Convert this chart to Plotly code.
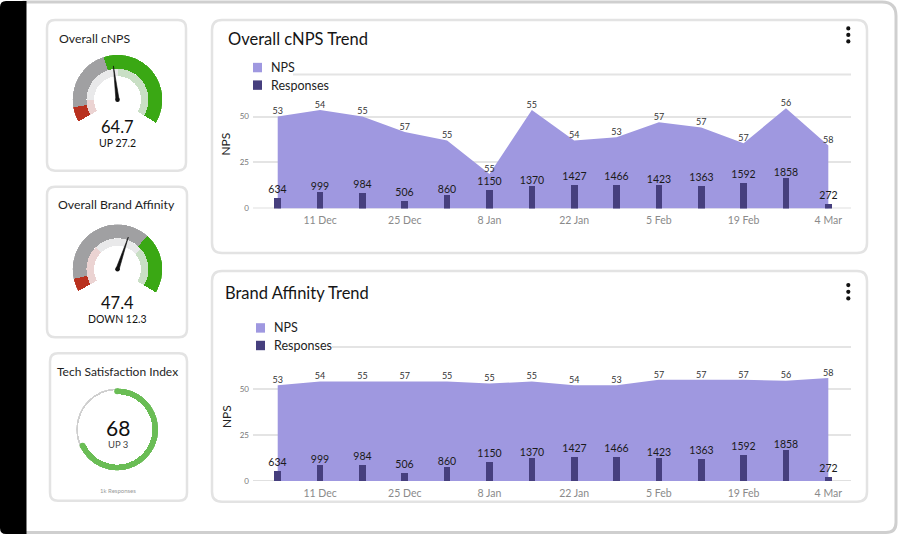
import plotly.graph_objects as go
import pandas as pd

W, H = 900, 534          # design coordinates (reference picture)
FIG_H = 541              # page height the photographer squeezes into 534
FONT = "Lato"

# ---------------- data ----------------
week_start = "2023-12-04"
n_weeks = 14
tick_dates = ["2023-12-11", "2023-12-25", "2024-01-08", "2024-01-22",
              "2024-02-05", "2024-02-19", "2024-03-04"]
tick_labels = ["11 Dec", "25 Dec", "8 Jan", "22 Jan", "5 Feb", "19 Feb", "4 Mar"]

cnps_area = [50, 53.6, 50, 41.6, 36.9, 18.7, 53.6, 36.9, 38.7, 46.9, 44, 35.4, 54.5, 34.2]
brand_area = [52, 54, 54, 54, 54, 53, 54, 52, 52, 55, 55, 55, 54.5, 56]
nps_labels = [53, 54, 55, 57, 55, 55, 55, 54, 53, 57, 57, 57, 56, 58]
responses = [634, 999, 984, 506, 860, 1150, 1370, 1427, 1466, 1423, 1363, 1592, 1858, 272]
y_ticks = [0, 25, 50]

gauge_titles = ["Overall cNPS", "Overall Brand Affinity"]
gauge_values = ["64.7", "47.4"]
gauge_changes = ["UP 27.2", "DOWN 12.3"]
gauge_needle = [46.7, 57.3]                      # position on a 0-100 arc
gauge_outer_bounds = [[0, 8, 42, 100], [0, 7, 67, 100]]
gauge_inner_bounds = [[0, 12, 50, 100], [0, 31, 70, 100]]

tsi_title = "Tech Satisfaction Index"
tsi_value = 68
tsi_change = "UP 3"
tsi_note = "1k Responses"

# ---------------- styles ----------------
AREA_C = "#9f98e0"
BAR_C = "#463f7e"
OUTER_C = ["#b9311f", "#a0a0a2", "#3aa814"]
INNER_C = ["#ebd3d2", "#e9e9ea", "#c9dfc5"]
DONUT_C = "#6abd55"

dates = pd.date_range(week_start, periods=n_weeks, freq="7D")


def X(px):
    return px / W


def Y(py):
    return 1 - py / H


def rpath(x0, y0, x1, y1, r):
    tl, tr, br, bl = r if isinstance(r, (list, tuple)) else (r, r, r, r)
    p = lambda x, y: f"{X(x):.5f},{Y(y):.5f}"
    s = f"M{p(x0 + tl, y0)} L{p(x1 - tr, y0)} Q{p(x1, y0)} {p(x1, y0 + tr)} "
    s += f"L{p(x1, y1 - br)} Q{p(x1, y1)} {p(x1 - br, y1)} "
    s += f"L{p(x0 + bl, y1)} Q{p(x0, y1)} {p(x0, y1 - bl)} "
    s += f"L{p(x0, y0 + tl)} Q{p(x0, y0)} {p(x0 + tl, y0)} Z"
    return s


shapes = []
annotations = []


def ann(text, x, y, size, color="#1e1e1e", xanchor="center", **kw):
    annotations.append(dict(text=text, x=X(x), y=Y(y), xref="paper", yref="paper",
                            showarrow=False, xanchor=xanchor, yanchor="middle",
                            font=dict(size=size, color=color, family=FONT), **kw))


# frame + black side bar
shapes.append(dict(type="path", path=rpath(24, 2, 896, 530.5, (0, 14, 10, 0)),
                   xref="paper", yref="paper", line=dict(color="#cfcfcf", width=3),
                   fillcolor="white", layer="below"))
shapes.append(dict(type="path", path=rpath(0, 1, 26.5, 532, (6, 0, 0, 6)),
                   xref="paper", yref="paper", line=dict(width=0),
                   fillcolor="black", layer="below"))

# cards
for (x0, y0, x1, y1, r) in [(47, 20, 186, 170, 8), (47, 186, 187, 336, 8),
                            (50, 352, 187, 499, 8), (212, 20, 867, 252, 10),
                            (212, 270, 867, 500, 10)]:
    shapes.append(dict(type="path", path=rpath(x0, y0, x1, y1, r), xref="paper",
                       yref="paper", line=dict(color="#e3e3e3", width=2.5),
                       fillcolor="white", layer="below"))

# three-dot menus
for cy in (28.3, 34.8, 41.3, 284, 290.7, 297.3):
    shapes.append(dict(type="circle", xref="paper", yref="paper",
                       x0=X(846.2), x1=X(850.4), y0=Y(cy + 2.1), y1=Y(cy - 2.1),
                       fillcolor="#111", line=dict(width=0), layer="above"))

fig = go.Figure()

# ---------------- trend charts ----------------
charts = [
    dict(title="Overall cNPS Trend", area=cnps_area, xa="x", ya="y", yb="y3",
         bottom=207.7, top=74.3, tx=226, ty=38.5, lx=253, ly=67.3),
    dict(title="Brand Affinity Trend", area=brand_area, xa="x2", ya="y2", yb="y4",
         bottom=479.3, top=345.7, tx=223, ty=292, lx=256, ly=326.7),
]

x_range = ["2023-11-29 22:00", "2024-03-07 18:00"]
layout_axes = {}
for i, c in enumerate(charts):
    fig.add_trace(go.Scatter(x=dates, y=c["area"], xaxis=c["xa"], yaxis=c["ya"],
                             fill="tozeroy", fillcolor=AREA_C, mode="lines+text",
                             line=dict(width=0, color=AREA_C),
                             text=[str(v) for v in nps_labels], textposition="top center",
                             textfont=dict(size=9, color="#333", family=FONT),
                             cliponaxis=False, showlegend=False, hoverinfo="skip"))
    fig.add_trace(go.Bar(x=dates, y=responses, xaxis=c["xa"], yaxis=c["yb"],
                         marker=dict(color=BAR_C, line=dict(width=0)), width=95e6,
                         text=[str(v) for v in responses], textposition="outside",
                         constraintext="none",
                         textfont=dict(size=10.5, color="#1a1a1a", family=FONT),
                         cliponaxis=False, showlegend=False, hoverinfo="skip"))
    sfx = "" if i == 0 else "2"
    bsfx = "3" if i == 0 else "4"
    layout_axes["xaxis" + sfx] = dict(
        domain=[X(253), X(851)], anchor=c["ya"], type="date", range=x_range,
        tickvals=tick_dates, ticktext=tick_labels, showgrid=False, zeroline=False,
        showline=False, ticks="", ticklabelstandoff=4,
        tickfont=dict(size=10.5, color="#8a8a8a", family=FONT))
    layout_axes["yaxis" + sfx] = dict(
        domain=[Y(c["bottom"]), Y(c["top"])], anchor=c["xa"], range=[0, 72.8],
        tickvals=y_ticks, showgrid=True, gridcolor="#e4e4e4", gridwidth=2,
        zeroline=False, showline=False, ticks="", ticklabelstandoff=3,
        tickfont=dict(size=8, color="#777", family=FONT))
    layout_axes["yaxis" + bsfx] = dict(
        overlaying=c["ya"], anchor=c["xa"], range=[0, 8100], visible=False,
        showgrid=False, zeroline=False)
    # baseline and top line
    shapes.append(dict(type="line", xref=c["xa"] + " domain", yref=c["ya"],
                       x0=0, x1=1, y0=0, y1=0, line=dict(color="#e0e0e0", width=2),
                       layer="below"))
    shapes.append(dict(type="line", xref=c["xa"] + " domain", yref=c["ya"] + " domain",
                       x0=0, x1=1, y0=1, y1=1, line=dict(color="#e4e4e4", width=2),
                       layer="below"))
    # title
    ann(c["title"], c["tx"], c["ty"], 16.5, "#151515", xanchor="left")
    ann("NPS", 226, (c["bottom"] + c["top"]) / 2 + 3, 12, "#222", textangle=-90)
    # legend
    lx, ly = c["lx"], c["ly"]
    for k, (name, col, tw) in enumerate([("NPS", AREA_C, 24), ("Responses", BAR_C, 60)]):
        cy = ly + 17.5 * k
        shapes.append(dict(type="rect", xref="paper", yref="paper",
                           x0=X(lx - 3), x1=X(lx + 16 + tw), y0=Y(cy + 8.5), y1=Y(cy - 8.5),
                           fillcolor="white", line=dict(width=0), layer="above"))
        shapes.append(dict(type="rect", xref="paper", yref="paper",
                           x0=X(lx), x1=X(lx + 9), y0=Y(cy + 4.7), y1=Y(cy - 4.7),
                           fillcolor=col, line=dict(width=0), layer="above"))
        ann(name, lx + 16, cy, 12.5, "#1e1e1e", xanchor="left")

# ---------------- gauges ----------------
g_centers = [(117.5, 99.3), (117.5, 268.3)]
g_value_y = [126.5, 302.3]
g_change_y = [142.9, 318]
g_title_pos = [(57, 38), (56, 204)]
G_R = 45
for gi, (cx, cy) in enumerate(g_centers):
    pname = "polar" if gi == 0 else "polar2"
    for bounds, cols, base, thick in [(gauge_outer_bounds[gi], OUTER_C, 31, 14),
                                      (gauge_inner_bounds[gi], INNER_C, 23.5, 7.5)]:
        th = [(bounds[j] + bounds[j + 1]) / 2 * 2.4 for j in range(3)]
        wd = [(bounds[j + 1] - bounds[j]) * 2.4 for j in range(3)]
        fig.add_trace(go.Barpolar(r=[thick] * 3, base=[base] * 3, theta=th, width=wd,
                                  marker=dict(color=cols, line=dict(width=0)),
                                  subplot=pname, showlegend=False, hoverinfo="skip"))
    t = gauge_needle[gi] * 2.4
    fig.add_trace(go.Scatterpolar(r=[1.6, 34, 1.6, 1.6], theta=[t - 90, t, t + 90, t - 90],
                                  mode="lines", fill="toself", fillcolor="#111",
                                  line=dict(color="#111", width=0.6), subplot=pname,
                                  showlegend=False, hoverinfo="skip"))
    fig.add_trace(go.Scatterpolar(r=[0], theta=[0], mode="markers",
                                  marker=dict(color="#111", size=4.5), subplot=pname,
                                  showlegend=False, hoverinfo="skip"))
    layout_axes[pname] = dict(
        domain=dict(x=[X(cx - G_R), X(cx + G_R)], y=[Y(cy + G_R), Y(cy - G_R)]),
        bgcolor="rgba(0,0,0,0)", hole=0,
        radialaxis=dict(range=[0, G_R], visible=False, showgrid=False),
        angularaxis=dict(visible=False, showgrid=False, rotation=209,
                         direction="clockwise"))
    tx, ty = g_title_pos[gi]
    ann(gauge_titles[gi], tx, ty, 12.3, "#1e1e1e", xanchor="left")
    ann(gauge_values[gi], cx, g_value_y[gi], 16.5, "#111")
    ann(gauge_changes[gi], cx, g_change_y[gi], 10.5, "#111")

# ---------------- tech satisfaction donut ----------------
dcx, dcy, D_R = 117.2, 427.8, 41.2
fig.add_trace(go.Barpolar(r=[1.8, 1.8], base=[39.3, 39.3], theta=[90, 270], width=[180, 180],
                          marker=dict(color="#cfcfcf", line=dict(width=0)),
                          subplot="polar3", showlegend=False, hoverinfo="skip"))
sweep = tsi_value / 100 * 360
fig.add_trace(go.Barpolar(r=[6], base=[35.2], theta=[sweep / 2], width=[sweep],
                          marker=dict(color=DONUT_C, line=dict(width=0)),
                          subplot="polar3", showlegend=False, hoverinfo="skip"))
fig.add_trace(go.Scatterpolar(r=[38.2, 38.2], theta=[0, sweep], mode="markers",
                              marker=dict(color=DONUT_C, size=6, line=dict(width=0)),
                              subplot="polar3", showlegend=False, hoverinfo="skip"))
layout_axes["polar3"] = dict(
    domain=dict(x=[X(dcx - D_R), X(dcx + D_R)], y=[Y(dcy + D_R), Y(dcy - D_R)]),
    bgcolor="rgba(0,0,0,0)", hole=0,
    radialaxis=dict(range=[0, D_R], visible=False, showgrid=False),
    angularaxis=dict(visible=False, showgrid=False, rotation=90, direction="clockwise"))
ann(tsi_title, 117.3, 370, 12, "#1e1e1e")
ann(str(tsi_value), 117.5, 425.5, 21, "#111")
ann(tsi_change, 117.5, 443, 9.5, "#444")
ann(tsi_note, 117.5, 488.5, 6, "#9a9a9a")

fig.update_layout(
    width=W, height=FIG_H, margin=dict(l=0, r=0, t=0, b=0),
    paper_bgcolor="white", plot_bgcolor="rgba(0,0,0,0)",
    font=dict(family=FONT), showlegend=False, bargap=0,
    shapes=shapes, annotations=annotations, **layout_axes)

css = ("var s=document.createElement('style');"
       "s.innerHTML='html,body{margin:0;padding:0;overflow:hidden;}"
       ".plotly-graph-div{overflow:hidden;line-height:0;}"
       ".svg-container{vertical-align:top;display:block !important;}';"
       "document.head.appendChild(s);")
fig.write_html("out.html", post_script=css,
               config={"displayModeBar": False, "responsive": False})
